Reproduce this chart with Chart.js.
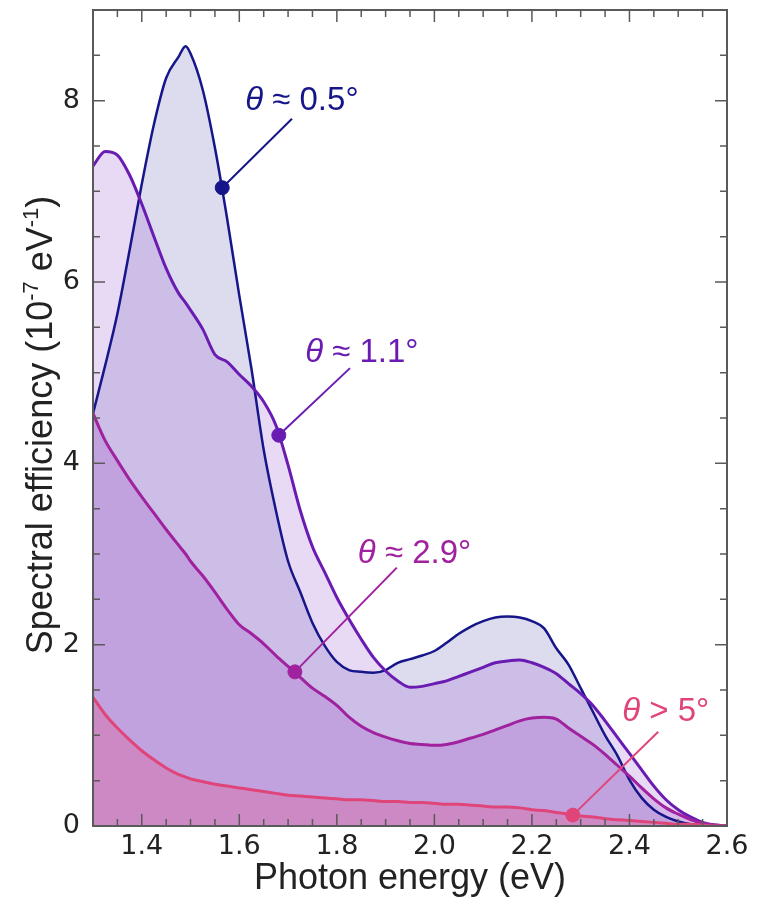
<!DOCTYPE html>
<html>
<head>
<meta charset="utf-8">
<script src="https://cdn.jsdelivr.net/npm/chart.js@4.4.0/dist/chart.umd.min.js"></script>
<style>
  html, body { margin: 0; padding: 0; background: #fff; }
  #wrap { width: 765px; height: 901px; }
</style>
</head>
<body>
<div id="wrap"><canvas id="out" width="765" height="901"></canvas></div>
<script>
// photon energy (eV)
const energy = [1.300, 1.325, 1.350, 1.375, 1.400, 1.425, 1.450, 1.475, 1.490, 1.500, 1.525,
  1.550, 1.575, 1.600, 1.625, 1.650, 1.675, 1.700, 1.725, 1.750, 1.775,
  1.800, 1.825, 1.850, 1.875, 1.900, 1.925, 1.950, 1.975, 2.000, 2.025,
  2.050, 2.075, 2.100, 2.125, 2.150, 2.175, 2.200, 2.225, 2.250, 2.275,
  2.300, 2.325, 2.350, 2.375, 2.400, 2.425, 2.450, 2.475, 2.500, 2.525,
  2.550, 2.575, 2.600];

// spectral efficiency (1e-7 / eV)
const theta05 = [4.55, 5.08, 5.65, 6.35, 7.08, 7.74, 8.25, 8.48, 8.60, 8.52, 8.12,
  7.48, 6.70, 5.85, 5.04, 4.15, 3.48, 2.92, 2.58, 2.24, 1.99,
  1.81, 1.72, 1.70, 1.69, 1.72, 1.80, 1.84, 1.88, 1.93, 2.02,
  2.12, 2.20, 2.26, 2.30, 2.31, 2.30, 2.26, 2.18, 1.96, 1.78,
  1.52, 1.26, 1.00, 0.78, 0.51, 0.31, 0.18, 0.10, 0.05, 0.02,
  0.01, 0.00, 0.00];

const theta11 = [7.28, 7.44, 7.40, 7.18, 6.86, 6.50, 6.15, 5.88, 5.77, 5.69, 5.48,
  5.20, 5.12, 4.98, 4.85, 4.68, 4.42, 3.98, 3.48, 3.08, 2.80,
  2.52, 2.28, 2.06, 1.86, 1.71, 1.60, 1.53, 1.54, 1.57, 1.60,
  1.65, 1.70, 1.75, 1.80, 1.82, 1.83, 1.80, 1.75, 1.68, 1.57,
  1.46, 1.33, 1.16, 0.98, 0.80, 0.62, 0.44, 0.29, 0.18, 0.10,
  0.04, 0.01, 0.00];

const theta29 = [4.55, 4.25, 4.03, 3.82, 3.63, 3.45, 3.27, 3.10, 3.00, 2.92, 2.76,
  2.58, 2.39, 2.22, 2.12, 2.01, 1.88, 1.76, 1.64, 1.52, 1.43,
  1.33, 1.20, 1.10, 1.03, 0.98, 0.94, 0.91, 0.90, 0.89, 0.90,
  0.93, 0.97, 1.01, 1.06, 1.11, 1.16, 1.19, 1.20, 1.18, 1.08,
  0.99, 0.90, 0.79, 0.67, 0.55, 0.42, 0.30, 0.20, 0.13, 0.07,
  0.03, 0.01, 0.00];

const theta5 = [1.42, 1.23, 1.08, 0.95, 0.83, 0.73, 0.64, 0.57, 0.54, 0.52, 0.49,
  0.46, 0.44, 0.42, 0.40, 0.38, 0.36, 0.34, 0.33, 0.32, 0.31,
  0.30, 0.29, 0.29, 0.28, 0.27, 0.27, 0.26, 0.26, 0.25, 0.24,
  0.24, 0.23, 0.22, 0.21, 0.21, 0.20, 0.18, 0.17, 0.15, 0.13,
  0.11, 0.10, 0.08, 0.07, 0.06, 0.05, 0.04, 0.03, 0.02, 0.02,
  0.01, 0.00, 0.00];

const seriesNames = ["\u03B8 \u2248 0.5\u00B0", "\u03B8 \u2248 1.1\u00B0", "\u03B8 \u2248 2.9\u00B0", "\u03B8 > 5\u00B0"];
const markerX = [1.565, 1.681, 1.714, 2.284];
const markerY = [7.04, 4.31, 1.70, 0.12];
// where each leader line ends and its label sits (data coords)
const leaderEndX = [1.708, 1.827, 1.923, 2.459];
const leaderEndY = [7.80, 5.05, 2.85, 1.04];
const labelX = [1.612, 1.735, 1.843, 2.385];
const labelY = [8.0, 5.22, 3.0, 1.26];

const xTicks = [1.4, 1.6, 1.8, 2.0, 2.2, 2.4, 2.6];
const yTicks = [0, 2, 4, 6, 8];

const lineColors = ["#16168a", "#6a1cb2", "#a0229f", "#e0457a"];
const fillColors = ["rgba(60,60,160,0.18)", "rgba(140,70,200,0.2)", "rgba(150,60,190,0.22)", "rgba(228,85,140,0.33)"];
const allSeries = [theta05, theta11, theta29, theta5];

function pts(ys) {
  return energy.map((x, i) => ({ x: x, y: ys[i] }));
}

const datasets = allSeries.map((ys, k) => ({
  label: seriesNames[k],
  data: pts(ys),
  borderColor: lineColors[k],
  backgroundColor: fillColors[k],
  borderWidth: k == 0 ? 2.5 : 3,
  pointRadius: 0,
  cubicInterpolationMode: "monotone",
  fill: "origin",
  order: 13 - k
}));

datasets.push({
  type: "scatter",
  label: "markers",
  data: markerX.map((x, i) => ({ x: x, y: markerY[i] })),
  pointRadius: 7,
  pointBackgroundColor: lineColors,
  pointBorderColor: lineColors,
  showLine: false,
  order: 0
});

const isTick = (v, list) => list.some(t => Math.abs(t - v) < 1e-6);

// frame, inward ticks, leader lines, labels and y title
const decor = {
  id: "decor",
  afterDatasetsDraw(chart) {
    const ctx = chart.ctx;
    const a = chart.chartArea;
    const xs = chart.scales.x, ys = chart.scales.y;
    ctx.save();

    // leader lines + labels
    for (let i = 0; i < markerX.length; i++) {
      ctx.strokeStyle = lineColors[i];
      ctx.lineWidth = 2;
      ctx.beginPath();
      ctx.moveTo(xs.getPixelForValue(markerX[i]), ys.getPixelForValue(markerY[i]));
      ctx.lineTo(xs.getPixelForValue(leaderEndX[i]), ys.getPixelForValue(leaderEndY[i]));
      ctx.stroke();

      let px = xs.getPixelForValue(labelX[i]);
      const py = ys.getPixelForValue(labelY[i]);
      ctx.fillStyle = lineColors[i];
      ctx.textBaseline = "middle";
      ctx.textAlign = "left";
      const txt = seriesNames[i];
      ctx.font = "italic 33px 'Liberation Sans'";
      ctx.fillText(txt[0], px, py);
      px += ctx.measureText(txt[0]).width;
      ctx.font = "33px 'Liberation Sans'";
      ctx.fillText(txt.slice(1), px, py);
    }

    // frame
    ctx.strokeStyle = "#5a5a5a";
    ctx.lineWidth = 2;
    ctx.strokeRect(a.left, a.top, a.right - a.left, a.bottom - a.top);

    // x ticks (top & bottom, inward)
    ctx.lineWidth = 1.5;
    for (let v = 1.3; v <= 2.6001; v += 0.05) {
      const p = xs.getPixelForValue(v);
      const len = isTick(Math.round(v * 100) / 100, xTicks) ? 12 : 7;
      ctx.beginPath();
      ctx.moveTo(p, a.bottom); ctx.lineTo(p, a.bottom - len);
      ctx.moveTo(p, a.top); ctx.lineTo(p, a.top + len);
      ctx.stroke();
    }
    // y ticks (left & right, inward)
    for (let v = 0; v <= 9.0001; v += 0.5) {
      const p = ys.getPixelForValue(v);
      const len = isTick(v, yTicks) ? 12 : 7;
      ctx.beginPath();
      ctx.moveTo(a.left, p); ctx.lineTo(a.left + len, p);
      ctx.moveTo(a.right, p); ctx.lineTo(a.right - len, p);
      ctx.stroke();
    }

    // y title with superscripts
    ctx.translate(42, 425);
    ctx.rotate(-Math.PI / 2);
    ctx.fillStyle = "#222";
    ctx.textBaseline = "middle";
    const parts = [["Spectral efficiency (10", false], ["-7", true], [" eV", false], ["-1", true], [")", false]];
    const big = "36px 'Liberation Sans'", small = "22px 'Liberation Sans'";
    let total = 0;
    parts.forEach(p => { ctx.font = p[1] ? small : big; total += ctx.measureText(p[0]).width; });
    let cx = -total / 2;
    ctx.textAlign = "left";
    parts.forEach(p => {
      ctx.font = p[1] ? small : big;
      ctx.fillText(p[0], cx, p[1] ? -10 : 0);
      cx += ctx.measureText(p[0]).width;
    });
    ctx.restore();
  }
};

new Chart(document.getElementById("out").getContext("2d"), {
  type: "line",
  data: { datasets: datasets },
  options: {
    responsive: false,
    animation: false,
    events: [],
    layout: { padding: { top: 10, right: 38, left: 0, bottom: 0 } },
    plugins: {
      legend: { display: false },
      tooltip: { enabled: false },
      filler: { drawTime: "beforeDatasetsDraw" }
    },
    scales: {
      x: {
        type: "linear",
        min: 1.3, max: 2.6,
        grid: { display: false },
        border: { display: false },
        afterFit: s => { s.height = 75; s.paddingLeft = 0; s.paddingRight = 0; },
        afterBuildTicks: s => { s.ticks = xTicks.map(v => ({ value: v })); },
        ticks: {
          autoSkip: false,
          maxRotation: 0,
          padding: -3,
          color: "#222",
          font: { family: "DejaVu Sans", size: 27 },
          callback: v => v.toFixed(1)
        },
        title: {
          display: true,
          text: "Photon energy (eV)",
          color: "#222",
          font: { family: "Liberation Sans", size: 36 },
          padding: { top: 0, bottom: 0 }
        }
      },
      y: {
        type: "linear",
        min: 0, max: 9,
        grid: { display: false },
        border: { display: false },
        afterFit: s => { s.width = 93; s.paddingTop = 0; s.paddingBottom = 0; },
        afterBuildTicks: s => { s.ticks = yTicks.map(v => ({ value: v })); },
        ticks: {
          autoSkip: false,
          padding: 5,
          color: "#222",
          font: { family: "DejaVu Sans", size: 27 },
          callback: v => String(v)
        }
      }
    }
  },
  plugins: [decor]
});
</script>
</body>
</html>
